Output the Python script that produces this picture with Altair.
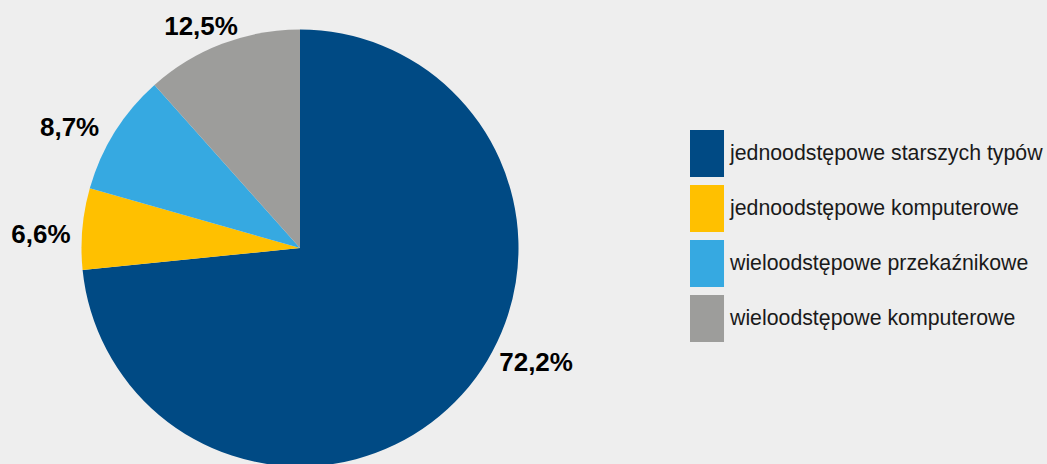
import altair as alt
import pandas as pd

categories = [
    "jednoodstępowe starszych typów",
    "jednoodstępowe komputerowe",
    "wieloodstępowe przekaźnikowe",
    "wieloodstępowe komputerowe",
]
# slice sizes as drawn in the picture (measured angles)
slice_sizes = [73.4, 6.0, 9.0, 11.6]
labels = ["72,2%", "6,6%", "8,7%", "12,5%"]
order = [0, 1, 2, 3]
colors = ["#004a84", "#ffc000", "#36a9e1", "#9d9d9b"]

df = pd.DataFrame({"kategoria": categories, "udzial": slice_sizes, "etykieta": labels, "kolejnosc": order})

CX, CY, R = 300, 248, 218.5

base = alt.Chart(df).encode(
    theta=alt.Theta("udzial:Q", stack=True),
    order=alt.Order("kolejnosc:Q", sort="ascending"),
    x=alt.value(CX),
    y=alt.value(CY),
)

pie = base.mark_arc(radius=R, stroke=None).encode(
    color=alt.Color(
        "kategoria:N",
        scale=alt.Scale(domain=categories, range=colors),
        sort=categories,
        legend=alt.Legend(
            title=None,
            orient="none",
            legendX=683,
            legendY=130,
            symbolType="M-0.702,-1H0.745V1H-0.702Z",
            symbolSize=2209,
            symbolStrokeWidth=0,
            symbolOpacity=1,
            labelFont="Liberation Sans",
            labelFontSize=21.3,
            labelColor="#1a1a1a",
            labelOffset=0,
            labelLimit=500,
            rowPadding=8,
        ),
    )
)

# label placement per slice: (category, radius, dx, dy)
label_style = [
    (categories[0], 263, 41, -61),
    (categories[1], 258, -2, 10),
    (categories[2], 260, -10, 18),
    (categories[3], 244, -12, 7),
]

text_layers = []
for cat, rad, ddx, ddy in label_style:
    text_layers.append(
        base.mark_text(
            radius=rad,
            dx=ddx,
            dy=ddy,
            font="Liberation Sans",
            fontSize=26,
            fontWeight="bold",
            color="#000000",
            align="center",
            baseline="middle",
        ).encode(
            text="etykieta:N",
            opacity=alt.condition(alt.datum.kategoria == cat, alt.value(1), alt.value(0)),
        )
    )

chart = (
    alt.layer(pie, *text_layers)
    .properties(width=1047, height=464, background="#eeeeee", padding=0, autosize=alt.AutoSizeParams(type="none"))
    .configure_view(stroke=None)
)

chart.save("out.html", embed_options={"renderer": "svg", "actions": False})
